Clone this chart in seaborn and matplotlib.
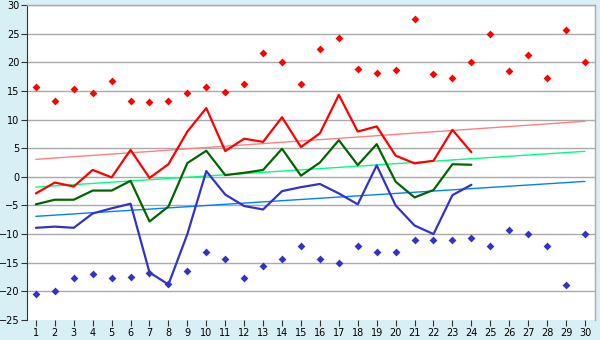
import matplotlib
matplotlib.use("Agg")
import matplotlib.pyplot as plt
import seaborn as sns
import pandas as pd
import numpy as np

days = list(range(1, 31))
days_obs = list(range(1, 25))

record_high = [15.6, 13.2, 15.4, 14.6, 16.7, 13.2, 13.0, 13.2, 14.6, 15.6,
               14.75, 16.15, 21.7, 20.0, 16.15, 22.4, 24.2, 18.8, 18.2, 18.6,
               27.5, 17.9, 17.2, 20.0, 24.9, 18.4, 21.2, 17.2, 25.6, 20.0]
record_low = [-20.5, -20.0, -17.7, -17.0, -17.7, -17.55, -16.8, -18.7, -16.5, -13.2,
              -14.4, -17.7, -15.6, -14.4, -12.1, -14.4, -15.1, -12.1, -13.2, -13.2,
              -11.1, -11.1, -11.1, -10.75, -12.1, -9.35, -10.0, -12.1, -18.95, -10.0]

t_max = [-2.9, -1.0, -1.7, 1.2, -0.1, 4.7, -0.2, 2.2, 7.9, 12.0,
         4.5, 6.65, 6.1, 10.4, 5.2, 7.6, 14.3, 7.9, 8.8, 3.7,
         2.35, 2.8, 8.2, 4.3]
t_mean = [-4.8, -4.0, -4.0, -2.4, -2.4, -0.7, -7.8, -5.2, 2.4, 4.55,
          0.3, 0.7, 1.2, 4.9, 0.2, 2.5, 6.4, 2.05, 5.7, -0.85,
          -3.6, -2.3, 2.2, 2.1]
t_min = [-8.9, -8.7, -8.9, -6.4, -5.5, -4.7, -16.7, -18.8, -10.0, 1.0,
         -3.1, -5.1, -5.7, -2.5, -1.8, -1.25, -2.9, -4.8, 2.0, -5.0,
         -8.5, -10.0, -3.2, -1.4]

trend_days = [1, 30]
trend_max = [3.05, 9.7]
trend_mean = [-1.8, 4.45]
trend_min = [-6.9, -0.8]

sns.set_style("white")
plt.rcParams['font.family'] = ['DejaVu Sans']

bg = "#d9eff6"
fig = plt.figure(figsize=(6, 3.4), dpi=100, facecolor=bg)
ax = fig.add_axes([27/600, 1-320/340, (595-27)/600, (320-5)/340])
ax.set_facecolor("white")

# trend lines
sns.lineplot(x=trend_days, y=trend_max, ax=ax, color="#ff8080", lw=1.0)
sns.lineplot(x=trend_days, y=trend_mean, ax=ax, color="#00ff80", lw=1.0)
sns.lineplot(x=trend_days, y=trend_min, ax=ax, color="#0080ff", lw=1.0)

# observed lines
sns.lineplot(x=days_obs, y=t_max, ax=ax, color="#ff0000", lw=1.6)
sns.lineplot(x=days_obs, y=t_mean, ax=ax, color="#006600", lw=1.6)
sns.lineplot(x=days_obs, y=t_min, ax=ax, color="#3333cc", lw=1.6)

# records
sns.scatterplot(x=days, y=record_high, ax=ax, color="#ff0000", marker="D", s=16, linewidth=0)
sns.scatterplot(x=days, y=record_low, ax=ax, color="#3333cc", marker="D", s=16, linewidth=0)

ax.set_xlim(0.53, 30.53)
ax.set_ylim(-25, 30)
ax.set_xticks(days)
ax.set_xticklabels([str(d) for d in days])
ax.set_yticks(list(range(-25, 31, 5)))
ax.yaxis.grid(True, color="#aaaaaa", lw=1.0)
ax.get_ygridlines()[0].set_visible(False)
ax.set_axisbelow(True)
for s in ["top", "right"]:
    ax.spines[s].set_color("#aaaaaa")
    ax.spines[s].set_linewidth(1.0)
ax.spines["left"].set_color("#333333")
ax.spines["left"].set_linewidth(0.8)
ax.spines["bottom"].set_visible(False)
ax.tick_params(axis="both", which="both", labelsize=7, length=4, width=0.8,
               color="#333333", labelcolor="#000000", pad=1.5,
               bottom=True, left=True)
ax.set_xlabel("")
ax.set_ylabel("")
fig.savefig("out.png", dpi=100, facecolor=bg)
